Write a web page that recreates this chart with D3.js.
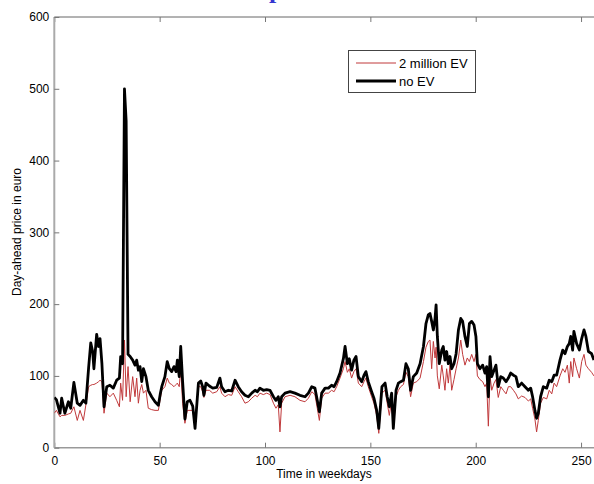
<!DOCTYPE html>
<html><head><meta charset="utf-8">
<script src="https://cdn.jsdelivr.net/npm/d3@7"></script>
<style>body{margin:0;background:#fff}svg{display:block}</style>
</head><body>
<script>
const days = [0,1,2.7,3.5,5,6.7,7.8,9.3,10.9,12.2,13.8,15,16.3,17.3,18.2,18.8,20.1,21,21.7,22.6,23.6,24.9,26.4,28,29.6,30.9,31.5,32.4,33.3,34.1,35,36,37.2,38.3,39.1,39.9,40.7,41.5,42.3,43.5,44.6,46.2,47.8,49.4,50.3,51,52.5,53.6,54.6,55.7,56.8,57.8,58.4,59.3,60,60.9,62,63.1,64.4,65.7,66.8,68.4,69.5,70.4,71,72,73.6,75.2,77.1,78.6,79.4,81,82.6,84.2,85.8,87.3,88.9,90.5,92.1,93.7,95.3,96.4,97.6,99.2,100.8,102.4,104,105.2,106.3,107.1,107.9,109.5,111.9,114.2,116.6,119,120.6,122.2,123.7,124.8,125.8,126.9,128.5,130.1,131.6,132.8,134,135.6,137.2,138,139.1,140,141.1,142.2,143.2,144.3,145.9,147,147.9,149,150.6,151.7,153,154,155.5,157,158,159,160.1,160.9,162.2,163.3,164.4,165.7,166.9,168,169.1,170.4,172,173.6,175.2,176.4,177.5,178.3,179.1,179.9,180.7,181.2,181.8,182.7,183.9,184.6,185.4,186.2,187,187.8,188.6,189.7,190.7,191.8,192.9,193.8,194.9,196,197,198.1,199.2,200.1,200.8,202,203.3,204.4,205.2,206,206.8,207.6,208.7,209.6,210.7,211.9,213.1,214.4,215.5,216.6,217.9,219.1,220.2,221.8,223.4,225,226.1,227,228.1,228.9,229.7,230.8,232.1,233.7,234.9,236.1,237.2,238.4,240,241.3,242.4,243.5,244.4,245.1,246,246.6,247.9,249.2,250.3,251.4,252.3,253.5,255,256.1];
const noEV = [70,67,48,69,48,64,55,91,62,59,66,62,112,146,134,110,158,141,152,117,57,85,87,83,94,97,127,117,500,455,130,127,122,115,122,108,113,92,110,99,80,71,64,59,75,85,99,120,110,106,113,106,122,99,141,92,40,64,66,58,27,90,93,85,73,90,86,83,84,97,85,78,80,79,94,85,78,73,71,76,80,78,83,80,81,80,71,66,71,57,71,76,78,76,73,71,76,85,83,66,50,76,83,83,87,85,92,104,124,141,117,124,108,122,127,99,92,101,106,92,78,69,52,27,85,90,71,57,76,27,80,90,92,94,117,110,80,99,104,117,141,173,185,187,176,164,180,199,155,117,136,141,122,134,117,127,110,117,131,164,180,176,155,141,173,176,171,155,117,110,115,104,113,71,127,99,108,115,85,99,97,92,97,104,101,99,85,90,85,80,83,71,52,41,48,71,85,83,94,92,101,101,122,136,131,141,145,155,136,162,145,136,152,164,155,134,131,122];
const ev2m = [48,52,43,45,45,47,48,57,38,52,38,60,85,87,88,88,90,92,94,92,48,76,71,76,66,57,90,66,150,71,113,64,99,71,97,62,80,88,76,80,55,53,52,52,68,80,85,97,90,88,85,88,90,85,110,62,34,52,52,52,30,85,85,78,70,80,80,76,78,85,76,71,74,73,85,78,71,62,64,69,73,71,76,74,76,74,62,55,60,22,62,71,73,71,66,64,69,78,74,55,38,69,76,76,80,78,85,97,110,120,105,110,97,106,110,90,85,92,97,85,71,62,45,20,76,80,62,45,66,26,71,80,85,88,105,99,71,90,92,97,120,140,148,150,110,148,125,140,100,82,115,100,80,110,90,115,80,95,110,125,150,130,115,125,120,130,120,130,100,95,92,85,90,30,100,80,90,95,70,85,80,75,85,85,80,75,68,72,70,65,68,55,40,22,38,62,70,68,80,75,90,85,100,110,105,115,90,120,99,125,110,97,120,130,115,110,105,100];
const xTicks = [0,50,100,150,200,250];
const yTicks = [0,100,200,300,400,500,600];
const seriesNames = ["2 million EV","no EV"];

const W=594,H=484;
const svg=d3.select("body").append("svg").attr("width",W).attr("height",H);
const x=d3.scaleLinear().domain([0,256]).range([54.3,593.7]);
const y=d3.scaleLinear().domain([0,600]).range([447.7,17]);

// partially visible title glyph (cut off at the top, as in the reference)
svg.append("text").attr("x",269).attr("y",-2).attr("font-family","Liberation Serif").attr("font-weight","bold").attr("font-size",26).attr("fill","#3636d0").text("p");

svg.append("defs").append("clipPath").attr("id","clip").append("rect").attr("x",54.3).attr("y",17).attr("width",540).attr("height",431);

const gx=svg.append("g").attr("transform","translate(0,447.7)").call(d3.axisBottom(x).tickValues(xTicks).tickSize(-5).tickPadding(9).tickFormat(d3.format("d")));
const gxt=svg.append("g").attr("transform","translate(0,17)").call(d3.axisTop(x).tickValues(xTicks).tickSize(-5).tickFormat(""));
const gy=svg.append("g").attr("transform","translate(54.3,0)").call(d3.axisLeft(y).tickValues(yTicks).tickSize(-5).tickPadding(5).tickFormat(d3.format("d")));
[gx,gxt,gy].forEach(g=>{g.selectAll("path").attr("stroke","#999").attr("stroke-width",1.5);g.selectAll("line").attr("stroke","#777");g.selectAll("text").attr("font-family","Liberation Sans, Arial").attr("font-size",12).attr("fill","#000");});
gx.select(".domain").attr("d","M54.3,0H594");
gxt.select(".domain").attr("d","M54.3,0H594").attr("stroke","#666").attr("stroke-width",1);
gy.select(".domain").attr("d","M0,447.7V17").attr("stroke","#aaa").attr("stroke-width",2);

const pts=(vals)=>days.map((d,i)=>[d,vals[i]]);
const line=d3.line().x(d=>x(d[0])).y(d=>y(d[1]));
const plot=svg.append("g").attr("clip-path","url(#clip)");
plot.append("path").attr("d",line(pts(ev2m))).attr("fill","none").attr("stroke","#c0393b").attr("stroke-width",1);
plot.append("path").attr("d",line(pts(noEV))).attr("fill","none").attr("stroke","#000").attr("stroke-width",2.8).attr("stroke-linejoin","round");

// legend
const lg=svg.append("g");
lg.append("rect").attr("x",348.5).attr("y",50.5).attr("width",127).attr("height",42).attr("fill","#fff").attr("stroke","#444").attr("stroke-width",1);
lg.append("line").attr("x1",356).attr("x2",396).attr("y1",63).attr("y2",63).attr("stroke","#c0393b").attr("stroke-width",1);
lg.append("line").attr("x1",356).attr("x2",396).attr("y1",81).attr("y2",81).attr("stroke","#000").attr("stroke-width",2.8);
lg.append("text").attr("x",399).attr("y",67.5).attr("font-family","Liberation Sans, Arial").attr("font-size",13).text(seriesNames[0]);
lg.append("text").attr("x",399).attr("y",85.5).attr("font-family","Liberation Sans, Arial").attr("font-size",13).text(seriesNames[1]);

svg.append("text").attr("x",324).attr("y",478).attr("text-anchor","middle").attr("font-family","Liberation Sans, Arial").attr("font-size",12).text("Time in weekdays");
svg.append("text").attr("transform","translate(21,232) rotate(-90)").attr("text-anchor","middle").attr("font-family","Liberation Sans, Arial").attr("font-size",12).text("Day-ahead price in euro");
</script>
</body></html>
